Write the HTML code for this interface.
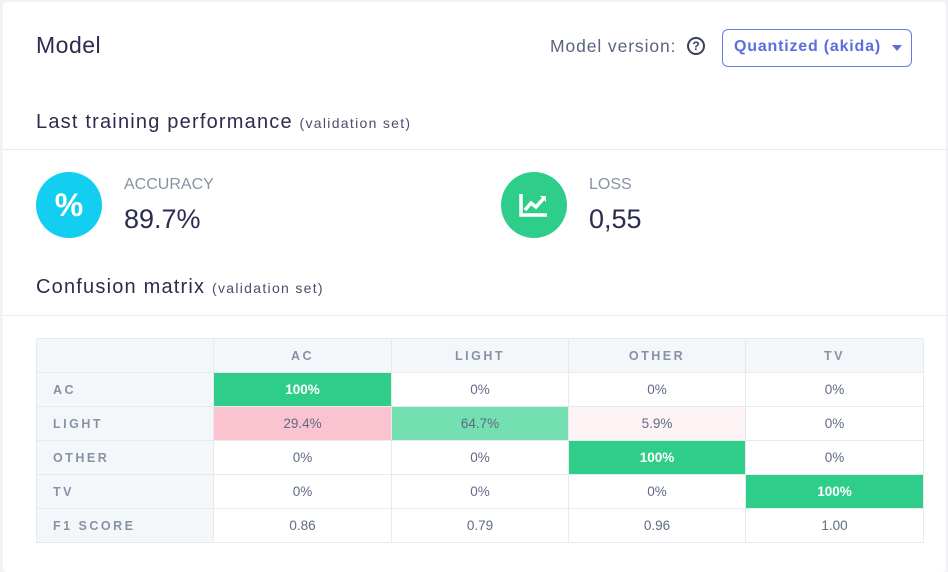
<!DOCTYPE html>
<html><head><meta charset="utf-8"><style>
*{margin:0;padding:0;box-sizing:border-box}
body{width:948px;height:568px;background:#f1f2f6;font-family:"Liberation Sans",sans-serif;position:relative;overflow:hidden}
.card{position:absolute;left:3px;top:2px;width:943px;height:570px;background:#fff;border-radius:4px}
.a{position:absolute;white-space:nowrap}
.h{color:#2b2c4f}
.hr{position:absolute;left:3px;width:945px;height:1px;background:#e8eaef}
table{position:absolute;left:36px;top:338px;border-collapse:collapse;table-layout:fixed;font-size:13.5px;width:888px}
td{border:1px solid #e6e9ee;height:34px;text-align:center;color:#5f6a85}
td.l{text-align:left;padding-left:16px;background:#f4f7fa;color:#8892a6;letter-spacing:2.5px;font-weight:bold;font-size:12.5px}
tr.hd td{background:#f4f7fa;color:#8892a6;letter-spacing:2.5px;font-size:12.5px;font-weight:bold}
.g{background:#2ecd8a;color:#fff!important;font-weight:bold}
.lg{background:#74dfb0}
.pk{background:#fbc3cf}
.pp{background:#fdf2f4}
.circ{position:absolute;width:66px;height:66px;border-radius:50%;color:#fff;text-align:center}
</style></head><body>
<div class="card"></div>
<div class="a h" style="left:36px;top:32px;font-size:23px;letter-spacing:0.5px">Model</div>
<div class="a" style="left:550px;top:36px;font-size:17.5px;letter-spacing:0.9px;color:#5a6380">Model version:</div>
<div class="a" style="left:687px;top:37px;width:18px;height:18px;border:2px solid #3a3f58;border-radius:50%;font-size:12px;font-weight:bold;text-align:center;line-height:14px;color:#3a3f58">?</div>
<div class="a" style="left:722px;top:29px;width:190px;height:38px;border:1px solid #6b7be6;border-radius:6px"></div>
<div class="a" style="left:734px;top:38px;font-size:16px;font-weight:bold;letter-spacing:0.8px;color:#5b6ee0">Quantized (akida)</div>
<div class="a" style="left:892px;top:45px;width:0;height:0;border-left:5px solid transparent;border-right:5px solid transparent;border-top:6px solid #5b6ee0"></div>
<div class="a h" style="left:36px;top:111px;font-size:20px;letter-spacing:1.2px">Last training performance <span style="font-size:14px;letter-spacing:1.3px;color:#4a4f6a">(validation set)</span></div>
<div class="hr" style="top:149px"></div>
<div class="circ" style="left:36px;top:172px;background:#12cef0;font-size:32px;font-weight:bold;line-height:66px">%</div>
<div class="a" style="left:124px;top:176px;font-size:16px;color:#8892a6">ACCURACY</div>
<div class="a h" style="left:124px;top:204px;font-size:27px">89.7%</div>
<div class="circ" style="left:501px;top:172px;background:#2ecd8a">
<svg width="66" height="66" viewBox="0 0 66 66"><path d="M20 22v21h26" stroke="#fff" stroke-width="3.5" fill="none"/><path d="M24 38l6-7 5 4 8-9" stroke="#fff" stroke-width="3.5" fill="none"/><path d="M39 24h6v6z" fill="#fff"/></svg></div>
<div class="a" style="left:589px;top:176px;font-size:16px;color:#8892a6">LOSS</div>
<div class="a h" style="left:589px;top:204px;font-size:27px">0,55</div>
<div class="a h" style="left:36px;top:276px;font-size:20px;letter-spacing:1.2px">Confusion matrix <span style="font-size:14px;letter-spacing:1.3px;color:#4a4f6a">(validation set)</span></div>
<div class="hr" style="top:315px"></div>
<table>
<colgroup><col style="width:177px"><col style="width:178px"><col style="width:177px"><col style="width:177px"><col style="width:178px"></colgroup>
<tr class="hd"><td class="l"></td><td>AC</td><td>LIGHT</td><td>OTHER</td><td>TV</td></tr>
<tr><td class="l">AC</td><td class="g">100%</td><td>0%</td><td>0%</td><td>0%</td></tr>
<tr><td class="l">LIGHT</td><td class="pk">29.4%</td><td class="lg">64.7%</td><td class="pp">5.9%</td><td>0%</td></tr>
<tr><td class="l">OTHER</td><td>0%</td><td>0%</td><td class="g">100%</td><td>0%</td></tr>
<tr><td class="l">TV</td><td>0%</td><td>0%</td><td>0%</td><td class="g">100%</td></tr>
<tr><td class="l">F1 SCORE</td><td>0.86</td><td>0.79</td><td>0.96</td><td>1.00</td></tr>
</table>
</body></html>
